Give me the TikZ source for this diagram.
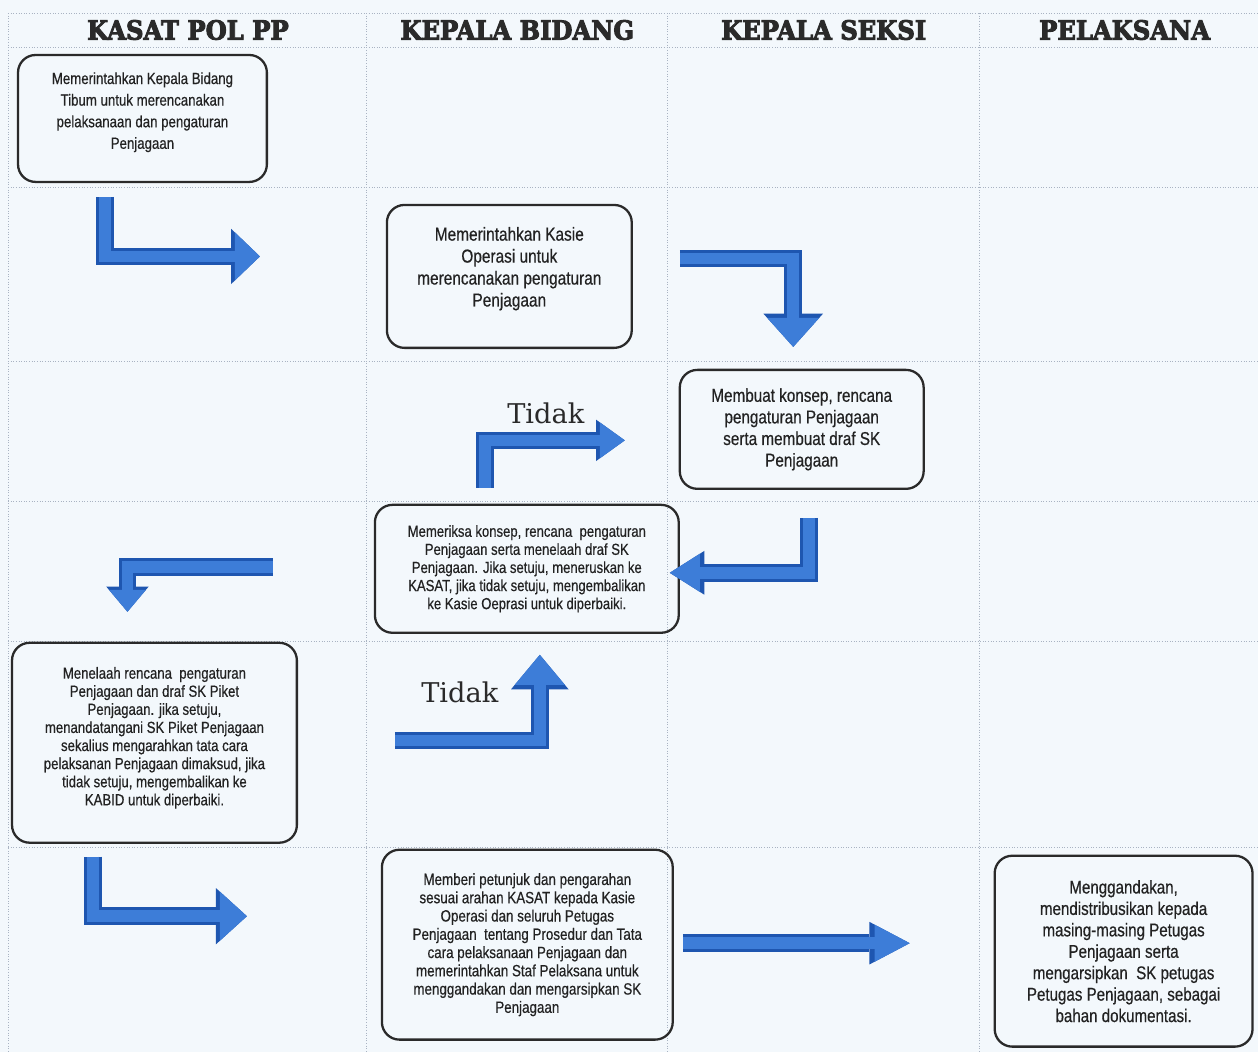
\documentclass[tikz,border=0pt]{standalone}
\usepackage{fontspec}
\setmainfont{Liberation Sans}[FakeStretch=0.82, FakeBold=0.5]
\newfontfamily\judulfont{DejaVu Serif}[FakeStretch=0.92, FakeBold=3.5]
\newfontfamily\tidakfont{DejaVu Serif}
\usetikzlibrary{arrows.meta}
\definecolor{latar}{HTML}{F3F8FC}
\definecolor{garis}{HTML}{A9B3C2}
\definecolor{panahbiru}{HTML}{3D7DD8}
\definecolor{panahgelap}{HTML}{1E56B0}
\definecolor{kotak}{HTML}{2A2A2A}
\definecolor{teks}{HTML}{222222}
\begin{document}
\begin{tikzpicture}[x=0.02cm, y=-0.02cm,
  proses/.style={draw=kotak, line width=1.3pt, rounded corners=10pt, align=center, text=teks, inner sep=0pt},
  judul/.style={font=\judulfont\bfseries\fontsize{15}{17}\selectfont, text=kotak},
  tidak/.style={font=\tidakfont\fontsize{15.5}{18}\selectfont, text=kotak, anchor=base},
  grid/.style={garis, densely dotted, line width=0.5pt},
  panah/.style 2 args={draw=panahbiru, line width=0.23cm, line join=miter,
    -{Triangle[length=#1, width=#2, line width=0pt]},
    preaction={draw=panahgelap, line width=0.35cm, -{Triangle[length=#1, width=#2, line width=0pt, scale=1.15]}}}]
\fill[latar] (0,0) rectangle (1258,1052);
% kolom dan baris
\foreach \gy in {13,47,187,362,502,642,848}
  \draw[grid] (8,\gy) -- (1258,\gy);
\foreach \gx in {8,367,668,980}
  \draw[grid] (\gx,13) -- (\gx,1052);
% judul kolom
\node[judul] (jkasat) at (188,30) {KASAT POL PP};
\node[judul] (jkabid) at (517.5,30) {KEPALA BIDANG};
\node[judul] (jkasi) at (824,30) {KEPALA SEKSI};
\node[judul] (jpelaksana) at (1125,30) {PELAKSANA};
% kotak proses
\node[proses, minimum width=4.98cm, minimum height=2.54cm, text depth=9pt, font=\fontsize{9.2}{12.3}\selectfont] (kasat1) at (142.5,118.5)
  {Memerintahkan Kepala Bidang\\Tibum untuk merencanakan\\pelaksanaan dan pengaturan\\Penjagaan};
\node[proses, minimum width=4.9cm, minimum height=2.86cm, text depth=11pt, font=\fontsize{10.7}{12.5}\selectfont] (kabid1) at (509.5,276.5)
  {Memerintahkan Kasie\\Operasi untuk\\merencanakan pengaturan\\Penjagaan};
\node[proses, minimum width=4.88cm, minimum height=2.38cm, font=\fontsize{10.6}{12.3}\selectfont] (kasi1) at (802,429.5)
  {Membuat konsep, rencana\\pengaturan Penjagaan\\serta membuat draf SK\\Penjagaan};
\node[proses, minimum width=6.08cm, minimum height=2.56cm, font=\fontsize{9.1}{10.3}\selectfont] (kabid2) at (527,569)
  {Memeriksa konsep, rencana\ \ pengaturan\\Penjagaan serta menelaah draf SK\\Penjagaan. Jika setuju, meneruskan ke\\KASAT, jika tidak setuju, mengembalikan\\ke Kasie Oeprasi untuk diperbaiki.};
\node[proses, minimum width=5.7cm, minimum height=4cm, text depth=7.5pt, font=\fontsize{9.15}{10.3}\selectfont] (kasat2) at (154.5,743)
  {Menelaah rencana\ \ pengaturan\\Penjagaan dan draf SK Piket\\Penjagaan. jika setuju,\\menandatangani SK Piket Penjagaan\\sekalius mengarahkan tata cara\\pelaksanan Penjagaan dimaksud, jika\\tidak setuju, mengembalikan ke\\KABID untuk diperbaiki.};
\node[proses, minimum width=5.82cm, minimum height=3.8cm, font=\fontsize{9.3}{10.4}\selectfont] (kabid3) at (527.5,945)
  {Memberi petunjuk dan pengarahan\\sesuai arahan KASAT kepada Kasie\\Operasi dan seluruh Petugas\\Penjagaan\ \ tentang Prosedur dan Tata\\cara pelaksanaan Penjagaan dan\\memerintahkan Staf Pelaksana untuk\\menggandakan dan mengarsipkan SK\\Penjagaan};
\node[proses, minimum width=5.16cm, minimum height=3.82cm, font=\fontsize{10.5}{12.2}\selectfont] (pelaksana1) at (1124,951.5)
  {Menggandakan,\\mendistribusikan kepada\\masing-masing Petugas\\Penjagaan serta\\mengarsipkan\ \ SK petugas\\Petugas Penjagaan, sebagai\\bahan dokumentasi.};
% label
\node[tidak] (tidak1) at (546,424) {Tidak};
\node[tidak] (tidak2) at (460,703) {Tidak};
% ujung panah
\coordinate (p1a) at (105,197);   \coordinate (p1b) at (260,256.5);
\coordinate (p2a) at (680,258.5); \coordinate (p2b) at (793.5,347);
\coordinate (p3a) at (485,488);   \coordinate (p3b) at (625,440.5);
\coordinate (p4a) at (809.5,518); \coordinate (p4b) at (670,573);
\coordinate (p5a) at (273,567);   \coordinate (p5b) at (127.5,612);
\coordinate (p6a) at (395,740.5); \coordinate (p6b) at (540,655);
\coordinate (p7a) at (93,857);    \coordinate (p7b) at (247,916.5);
\coordinate (p8a) at (683,943.5); \coordinate (p8b) at (910,943.5);
\draw[panah={0.5cm}{0.96cm}] (p1a) |- (p1b);
\draw[panah={0.58cm}{1.04cm}] (p2a) -| (p2b);
\draw[panah={0.5cm}{0.72cm}] (p3a) |- (p3b);
\draw[panah={0.6cm}{0.76cm}] (p4a) |- (p4b);
\draw[panah={0.44cm}{0.74cm}] (p5a) -| (p5b);
\draw[panah={0.6cm}{1.0cm}] (p6a) -| (p6b);
\draw[panah={0.54cm}{0.98cm}] (p7a) |- (p7b);
\draw[panah={0.7cm}{0.74cm}] (p8a) -- (p8b);
\end{tikzpicture}
\end{document}
